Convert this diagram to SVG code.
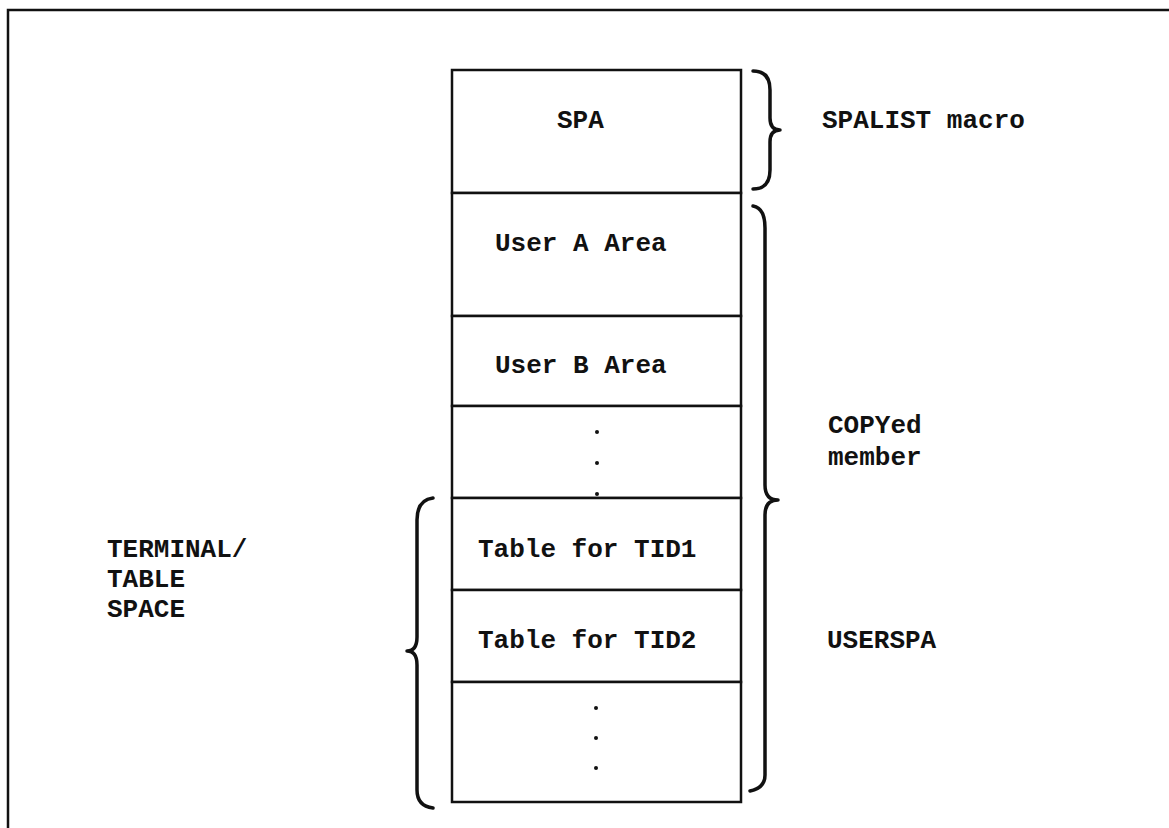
<svg xmlns="http://www.w3.org/2000/svg" width="1169" height="828" viewBox="0 0 1169 828">
<style>
.t{font-family:"Liberation Mono","Courier New",monospace;font-size:26px;font-weight:bold;fill:#111}
.box{fill:#fff;stroke:#111;stroke-width:2.5}
.brace{fill:none;stroke:#111;stroke-width:3.5;stroke-linecap:round;stroke-linejoin:round}
.dot{fill:#111}
</style>
<rect width="1169" height="828" fill="#fff"/>
<path d="M8 828 L8 10 L1169 10" fill="none" stroke="#111" stroke-width="2.5"/>
<g id="spa"><rect class="box" x="452" y="70" width="289" height="123"/><text class="t" x="557" y="128">SPA</text></g>
<g id="userA"><rect class="box" x="452" y="193" width="289" height="123"/><text class="t" x="495" y="251">User A Area</text></g>
<g id="userB"><rect class="box" x="452" y="316" width="289" height="90"/><text class="t" x="495" y="373">User B Area</text></g>
<g id="dots1"><rect class="box" x="452" y="406" width="289" height="92"/><circle class="dot" cx="597" cy="432" r="2"/><circle class="dot" cx="597" cy="463" r="2"/><circle class="dot" cx="597" cy="494" r="2"/></g>
<g id="tid1"><rect class="box" x="452" y="498" width="289" height="92"/><text class="t" x="478" y="557">Table for TID1</text></g>
<g id="tid2"><rect class="box" x="452" y="590" width="289" height="92"/><text class="t" x="478" y="648">Table for TID2</text></g>
<g id="dots2"><rect class="box" x="452" y="682" width="289" height="120"/><circle class="dot" cx="596" cy="708" r="2"/><circle class="dot" cx="596" cy="738" r="2"/><circle class="dot" cx="596" cy="768" r="2"/></g>
<g id="connectors">
<path class="brace" d="M753 71 Q770 71 770 90 L770 118 Q770 130 780 130 Q770 130 770 142 L770 170 Q770 189 753 189"/>
<path class="brace" d="M753 206 Q765 208 765 228 L765 485 Q765 500 778 500 Q765 500 765 515 L765 775 Q765 788 750 791"/>
<path class="brace" d="M433 498 Q417 500 417 520 L417 637 Q417 651 407 651 Q417 651 417 665 L417 790 Q417 806 433 808"/>
</g>
<g id="labels">
<text class="t" x="822" y="128">SPALIST macro</text>
<text class="t" x="828" y="433">COPYed</text>
<text class="t" x="828" y="465">member</text>
<text class="t" x="827" y="648">USERSPA</text>
<text class="t" x="107" y="557">TERMINAL/</text>
<text class="t" x="107" y="587">TABLE</text>
<text class="t" x="107" y="617">SPACE</text>
</g>
</svg>
